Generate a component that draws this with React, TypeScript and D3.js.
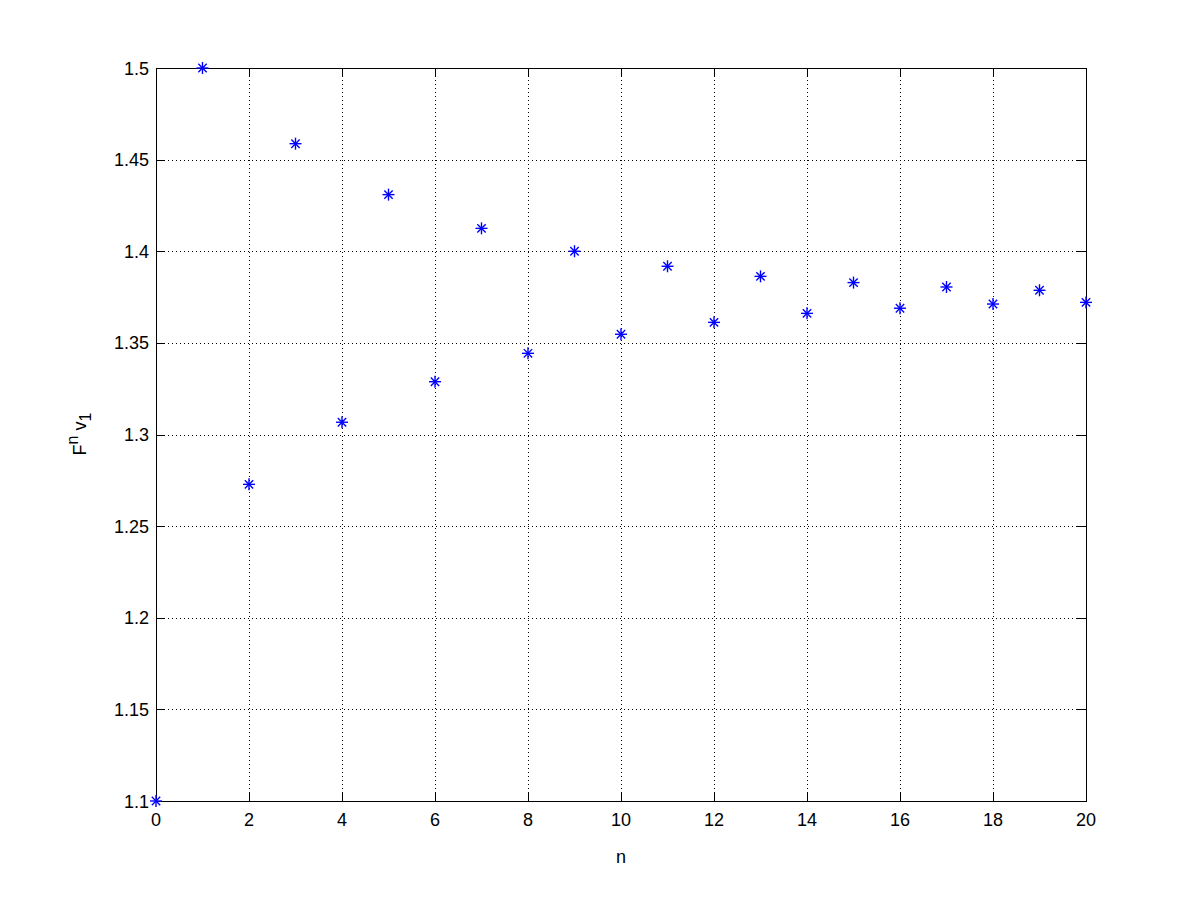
import React from "react";
import * as d3 from "d3";

const nValues = [0, 1, 2, 3, 4, 5, 6, 7, 8, 9, 10, 11, 12, 13, 14, 15, 16, 17, 18, 19, 20];
const fValues = [
  1.1, 1.5, 1.2728, 1.4587, 1.3067, 1.4309, 1.3288, 1.4125, 1.3443, 1.4, 1.3547,
  1.3918, 1.3612, 1.3863, 1.3661, 1.3829, 1.3689, 1.3805, 1.3712, 1.3787, 1.3721,
];
const xTicks = [0, 2, 4, 6, 8, 10, 12, 14, 16, 18, 20];
const yTicks = [1.1, 1.15, 1.2, 1.25, 1.3, 1.35, 1.4, 1.45, 1.5];

const W = 1200;
const H = 900;
const left = 156;
const right = 1086;
const top = 68;
const bottom = 801;
const FONT = "'Liberation Sans', Arial, Helvetica, sans-serif";

export default function App() {
  const x = d3.scaleLinear().domain([0, 20]).range([left, right]);
  const y = d3.scaleLinear().domain([1.1, 1.5]).range([bottom, top]);
  const tickLen = 9;
  const ms = 6;
  const md = 4.2;
  const fmt = (v: number) => d3.format("")(+v.toFixed(2));

  return (
    <div style={{ position: "absolute", left: 0, top: 0 }}>
      <svg width={W} height={H} style={{ display: "block", background: "#fff" }}>
        <rect x={0} y={0} width={W} height={H} fill="#fff" />
        {/* grid */}
        {xTicks
          .filter((t) => t !== 0 && t !== 20)
          .map((t) => (
            <line key={"gx" + t} x1={x(t)} x2={x(t)} y1={top} y2={bottom} stroke="#000" strokeWidth={1} strokeDasharray="1,3" shapeRendering="crispEdges" />
          ))}
        {yTicks
          .filter((t) => t !== 1.1 && t !== 1.5)
          .map((t) => (
            <line key={"gy" + t} x1={left} x2={right} y1={Math.round(y(t)) + 0.5} y2={Math.round(y(t)) + 0.5} stroke="#000" strokeWidth={1} strokeDasharray="1,3" />
          ))}
        {/* ticks */}
        {xTicks.map((t) => (
          <g key={"tx" + t}>
            <line x1={Math.round(x(t)) + 0.5} x2={Math.round(x(t)) + 0.5} y1={bottom} y2={bottom - tickLen} stroke="#000" />
            <line x1={Math.round(x(t)) + 0.5} x2={Math.round(x(t)) + 0.5} y1={top} y2={top + tickLen} stroke="#000" />
            <text x={x(t)} y={826} textAnchor="middle" fontFamily={FONT} fontSize={18} fill="#000">
              {t}
            </text>
          </g>
        ))}
        {yTicks.map((t) => (
          <g key={"ty" + t}>
            <line x1={left} x2={left + tickLen} y1={Math.round(y(t)) + 0.5} y2={Math.round(y(t)) + 0.5} stroke="#000" />
            <line x1={right} x2={right - tickLen} y1={Math.round(y(t)) + 0.5} y2={Math.round(y(t)) + 0.5} stroke="#000" />
            <text x={149} y={y(t) + 6.5} textAnchor="end" fontFamily={FONT} fontSize={18} fill="#000">
              {fmt(t)}
            </text>
          </g>
        ))}
        {/* box */}
        <rect x={left + 0.5} y={top + 0.5} width={right - left} height={bottom - top} fill="none" stroke="#000" strokeWidth={1} />
        {/* markers */}
        {nValues.map((n, i) => {
          const cx = x(n);
          const cy = y(fValues[i]);
          return (
            <g key={"m" + n} stroke="#0000ff" strokeWidth={1.4} transform={`translate(${cx},${cy})`}>
              <line x1={-ms} x2={ms} y1={0} y2={0} />
              <line x1={0} x2={0} y1={-ms} y2={ms} />
              <line x1={-md} x2={md} y1={-md} y2={md} />
              <line x1={-md} x2={md} y1={md} y2={-md} />
            </g>
          );
        })}
        {/* axis labels */}
        <text x={(left + right) / 2} y={863} textAnchor="middle" fontFamily={FONT} fontSize={18} fill="#000">
          n
        </text>
        <text transform={`translate(86,434) rotate(-90)`} textAnchor="middle" fontFamily={FONT} fontSize={18} fill="#000">
          <tspan>F</tspan>
          <tspan dy={-8} fontSize={16}>n</tspan>
          <tspan dy={8}> v</tspan>
          <tspan dy={5} fontSize={16}>1</tspan>
        </text>
      </svg>
    </div>
  );
}
